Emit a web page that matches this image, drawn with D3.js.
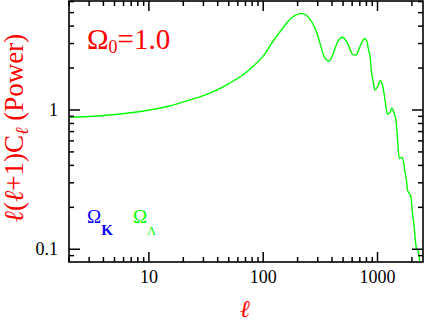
<!DOCTYPE html>
<html>
<head>
<meta charset="utf-8">
<script src="https://cdn.jsdelivr.net/npm/d3@7"></script>
<style>
  body { margin: 0; background: #fff; }
  svg { display: block; }
  text { font-family: "Liberation Serif", "DejaVu Serif", serif; }
</style>
</head>
<body>
<div id="chart"></div>
<script>
// multipole l and l(l+1)C_l
var ell = [2, 3, 4.5, 10.1, 15.2, 22.7, 33.9, 50.7, 66.2, 80.9, 99, 121, 148, 169, 194, 214, 237, 253, 280, 299,
  320, 342, 379, 405, 448, 495, 547, 605, 648, 692, 731, 766, 802, 834, 863, 887, 917, 949, 1000,
  1056, 1106, 1151, 1184, 1222, 1283, 1336, 1399, 1448, 1495, 1548, 1634, 1687, 1734, 1791, 1828,
  1958, 2022, 2092, 2134, 2191, 2280, 2345];
var power = [0.891, 0.898, 0.92, 1.0, 1.068, 1.18, 1.318, 1.555, 1.783, 2.046, 2.414, 3.09, 3.86, 4.43, 4.81, 4.94, 4.81, 4.55, 3.96, 3.45,
  2.85, 2.41, 2.25, 2.48, 3.09, 3.33, 3.01, 2.51, 2.48, 2.77, 3.07, 3.25, 3.16, 2.72, 2.38, 1.86, 1.60, 1.39, 1.47,
  1.62, 1.51, 1.25, 1.06, 0.931, 0.956, 1.03, 0.947, 0.848, 0.626, 0.450, 0.457, 0.426, 0.361, 0.314, 0.267,
  0.239, 0.181, 0.145, 0.120, 0.1017, 0.0961, 0.080];

var xMajor = [10, 100, 1000];
var xMinor = [2, 3, 4, 5, 6, 7, 8, 9, 20, 30, 40, 50, 60, 70, 80, 90, 200, 300, 400, 500, 600, 700, 800, 900, 2000];
var yMajor = [0.1, 1];
var yMinor = [0.09, 0.2, 0.3, 0.4, 0.5, 0.6, 0.7, 0.8, 0.9, 2, 3, 4, 5, 6];

var width = 424, height = 323;
var plotL = 69, plotR = 423, plotT = 1, plotB = 262;

var svg = d3.select('#chart').append('svg')
  .attr('width', width)
  .attr('height', height);

var x = d3.scaleLog().domain([2, 2500]).range([plotL, plotR]);
var y = d3.scaleLog().domain([0.081, 6.06]).range([plotB, plotT]);

svg.append('clipPath').attr('id', 'clip')
  .append('rect')
  .attr('x', plotL).attr('y', plotT)
  .attr('width', plotR - plotL).attr('height', plotB - plotT);

var pts = ell.map((l, i) => [l, power[i]]);

svg.append('path')
  .datum(pts)
  .attr('clip-path', 'url(#clip)')
  .attr('fill', 'none')
  .attr('stroke', '#00ff00')
  .attr('stroke-width', 1.4)
  .attr('d', d3.line().x(d => x(d[0])).y(d => y(d[1])).curve(d3.curveMonotoneX));

// frame
svg.append('rect')
  .attr('x', plotL).attr('y', plotT)
  .attr('width', plotR - plotL).attr('height', plotB - plotT)
  .attr('fill', 'none')
  .attr('stroke', '#000')
  .attr('stroke-width', 1.6);

var tickG = svg.append('g').attr('stroke', '#000').attr('stroke-width', 1.5);

// x ticks, bottom and top, pointing inward
var xTicks = xMajor.map(v => ({ v: v, len: 10 })).concat(xMinor.map(v => ({ v: v, len: 5 })));
tickG.selectAll('.xb').data(xTicks).enter().append('line')
  .attr('x1', d => x(d.v)).attr('x2', d => x(d.v))
  .attr('y1', plotB).attr('y2', d => plotB - d.len);
tickG.selectAll('.xt').data(xTicks).enter().append('line')
  .attr('x1', d => x(d.v)).attr('x2', d => x(d.v))
  .attr('y1', plotT).attr('y2', d => plotT + d.len);

// y ticks, left and right
var yTicks = yMajor.map(v => ({ v: v, len: 11 })).concat(yMinor.map(v => ({ v: v, len: 5 })));
tickG.selectAll('.yl').data(yTicks).enter().append('line')
  .attr('y1', d => y(d.v)).attr('y2', d => y(d.v))
  .attr('x1', plotL).attr('x2', d => plotL + d.len);
tickG.selectAll('.yr').data(yTicks).enter().append('line')
  .attr('y1', d => y(d.v)).attr('y2', d => y(d.v))
  .attr('x1', plotR).attr('x2', d => plotR - d.len);

// tick labels
svg.selectAll('.xl').data(xMajor).enter().append('text')
  .attr('x', d => x(d)).attr('y', 283)
  .attr('text-anchor', 'middle')
  .attr('font-size', 18)
  .text(d => d);

svg.selectAll('.ylab').data(yMajor).enter().append('text')
  .attr('x', 58).attr('y', d => y(d) + 6)
  .attr('text-anchor', 'end')
  .attr('font-size', 18)
  .text(d => d);

// axis titles
svg.append('text')
  .attr('x', 245).attr('y', 317)
  .attr('text-anchor', 'middle')
  .attr('fill', 'red')
  .attr('font-size', 24)
  .attr('font-style', 'italic')
  .text('\u2113');

var yt = svg.append('text')
  .attr('transform', 'translate(23,128) rotate(-90)')
  .attr('text-anchor', 'middle')
  .attr('fill', 'red')
  .attr('font-size', 27);
yt.append('tspan').attr('font-style', 'italic').text('\u2113');
yt.append('tspan').text('(');
yt.append('tspan').attr('font-style', 'italic').text('\u2113');
yt.append('tspan').text('+1)C');
yt.append('tspan').attr('font-style', 'italic').attr('font-size', 18).attr('dy', 5).text('\u2113');
yt.append('tspan').attr('dy', -5).text(' (Power)');

// annotations
var om = svg.append('text')
  .attr('x', 87).attr('y', 49)
  .attr('fill', 'red')
  .attr('font-size', 29);
om.append('tspan').text('\u03A9');
om.append('tspan').attr('font-size', 18).attr('dy', 4).text('0');
om.append('tspan').attr('dy', -4).text('=1.0');

var ok = svg.append('text')
  .attr('x', 87).attr('y', 223)
  .attr('fill', '#0000ff')
  .attr('font-size', 19);
ok.append('tspan').text('\u03A9');
ok.append('tspan').attr('font-size', 15).attr('font-weight', 'bold').attr('dy', 12).text('K');

var ol = svg.append('text')
  .attr('x', 133).attr('y', 223)
  .attr('fill', '#00ff00')
  .attr('font-size', 19);
ol.append('tspan').text('\u03A9');
ol.append('tspan').attr('font-size', 12).attr('dy', 12).text('\u039B');
</script>
</body>
</html>
